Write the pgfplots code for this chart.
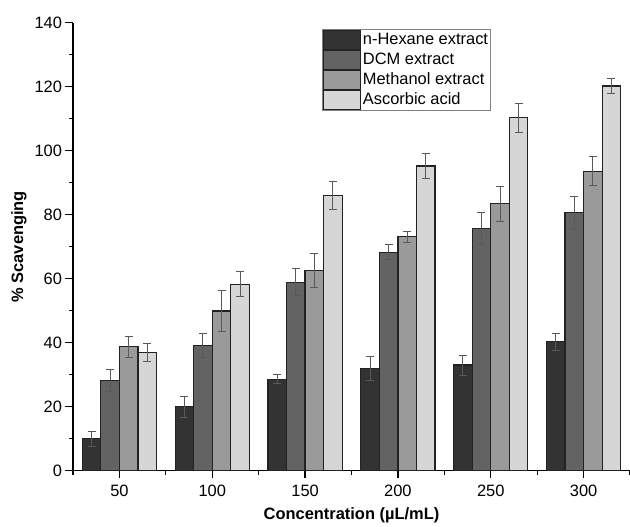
\documentclass[border=0pt]{standalone}
\usepackage{fontspec}
\setmainfont{Liberation Sans}
\usepackage{pgfplots}
\pgfplotsset{compat=1.18}
\definecolor{cHex}{HTML}{333333}
\definecolor{cDCM}{HTML}{636363}
\definecolor{cMeOH}{HTML}{9A9A9A}
\definecolor{cAsc}{HTML}{D6D6D6}
\definecolor{edge}{HTML}{222222}
\pgfplotsset{myerr/.style={
  error bars/y dir=both, error bars/y explicit,
  error bars/error bar style={line width=1bp, color=black!65},
  error bars/error mark options={rotate=90, mark size=4bp, line width=1bp, color=black!65}}}
\begin{document}
\begin{tikzpicture}
\begin{axis}[
  scale only axis, width=557bp, height=448bp,
  xmin=25, xmax=325, ymin=0, ymax=140,
  axis x line*=bottom, axis y line*=left,
  axis line style={line width=1.3bp, black},
  ybar=0pt, bar width=10,
  xtick={50,100,...,300}, minor xtick={25,75,...,325},
  ytick={0,20,...,140}, minor ytick={10,30,...,130},
  tick align=outside, major tick length=7.5bp, minor tick length=3.8bp,
  tick style={line width=1.2bp, black},
  /pgf/number format/assume math mode=true,
  ticklabel style={font=\fontsize{16.5}{19}\selectfont},
  xticklabel style={yshift=-3bp},
  xlabel={Concentration (µL/mL)}, ylabel={\% Scavenging},
  label style={font=\fontsize{16.5}{19}\selectfont\bfseries},
  xlabel style={at={(axis description cs:0.5,-0.1)}, anchor=center},
  ylabel style={at={(axis description cs:-0.097,0.5)}, anchor=center},
  legend style={at={(axis description cs:0.4465,0.986)}, anchor=north west,
    draw=black!50, line width=0.8bp, fill=white,
    font=\fontsize{16.5}{19}\selectfont, row sep=0pt, inner xsep=1bp, inner ysep=0.5bp,
    nodes={inner ysep=0bp, inner xsep=1.6bp, text height=14.8bp, text depth=4.9bp}},
  legend cell align=left,
  legend image code/.code={\draw[#1, line width=1.2bp] (0bp,-9.4bp) rectangle (37bp,9.4bp);},
]
\addplot[fill=cHex, draw=edge, line width=1.2bp, myerr] coordinates {
  (50,10) +- (0,2.3) (100,20) +- (0,3.3) (150,28.6) +- (0,1.5)
  (200,32) +- (0,3.7) (250,33) +- (0,3.1) (300,40.3) +- (0,2.6)};
\addplot[fill=cDCM, draw=edge, line width=1.2bp, myerr] coordinates {
  (50,28.2) +- (0,3.4) (100,39.2) +- (0,3.8) (150,58.9) +- (0,4.2)
  (200,68.3) +- (0,2.4) (250,75.7) +- (0,5.0) (300,80.6) +- (0,5.2)};
\addplot[fill=cMeOH, draw=edge, line width=1.2bp, myerr] coordinates {
  (50,38.7) +- (0,3.2) (100,49.9) +- (0,6.3) (150,62.5) +- (0,5.4)
  (200,73.1) +- (0,1.7) (250,83.4) +- (0,5.4) (300,93.6) +- (0,4.5)};
\addplot[fill=cAsc, draw=edge, line width=1.2bp, myerr] coordinates {
  (50,37) +- (0,2.9) (100,58.3) +- (0,3.9) (150,86.1) +- (0,4.4)
  (200,95.2) +- (0,3.8) (250,110.3) +- (0,4.6) (300,120.2) +- (0,2.4)};
\legend{n-Hexane extract, DCM extract, Methanol extract, Ascorbic acid}
\end{axis}
\pgfresetboundingbox
\path ([shift={(-73bp,-56.3bp)}]current axis.south west) rectangle ([shift={(0bp,22.7bp)}]current axis.north east);
\end{tikzpicture}
\end{document}
